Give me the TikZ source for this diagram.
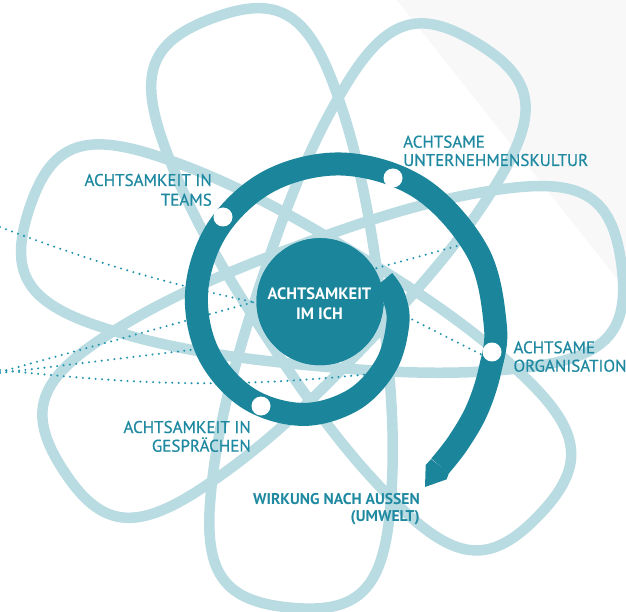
\documentclass[tikz,border=0pt]{standalone}
\usepackage{fontspec}
\setmainfont{PT Sans}
\newfontfamily\labfont[FakeBold=0.5]{PT Sans}
\usetikzlibrary{calc}
\definecolor{teal1}{RGB}{27,134,155}
\definecolor{lightfl}{RGB}{185,219,226}
\definecolor{labc}{RGB}{30,137,160}
\definecolor{dotc}{RGB}{35,150,175}
\definecolor{bggrey}{RGB}{248,248,248}
\begin{document}
\begin{tikzpicture}[x=1pt,y=1pt,
  flowerline/.style={draw=lightfl, line width=10.5pt, line join=round},
  dots/.style={draw=dotc, line width=2.3pt, dash pattern=on 0pt off 6.4pt, line cap=round},
  band/.style={draw=teal1, line width=23pt},
  whitedot/.style={circle, fill=white, minimum size=19pt, inner sep=0pt},
  lab/.style={text=labc, inner sep=0pt, font=\labfont\fontsize{17}{20}\selectfont},
  labb/.style={text=labc, inner sep=0pt, font=\bfseries\fontsize{15.6}{18}\selectfont},
  centre/.style={text=white, inner sep=0pt, font=\bfseries\fontsize{16.5}{20}\selectfont}
]
\useasboundingbox (0,0) rectangle (626,611);
\fill[white] (0,0) rectangle (626,611);
\fill[bggrey] (397,611) -- (626,321) -- (626,611) -- cycle;
% flower: seven rounded petals joined by long strokes
\begin{scope}[shift={(319,307)}]
\draw[flowerline] (7.5+102.857:62)
  \foreach \j [evaluate=\j as \a using {7.5+\j*154.2857}] in {0,...,6} {
    .. controls ($(\a+102.857:62)+(\a+12.857:80)$) and ($(\a+24.23:219.3)+(\a+180:70)$) .. (\a+24.23:219.3)
    .. controls ($(\a+24.23:219.3)+(\a:79)$) and ($(\a:305)+(\a+90:67.5)$) .. (\a:305)
    .. controls ($(\a:305)+(\a-90:67.5)$) and ($(\a-24.23:219.3)+(\a:79)$) .. (\a-24.23:219.3)
    .. controls ($(\a-24.23:219.3)+(\a+180:70)$) and ($(\a-102.857:62)+(\a-12.857:80)$) .. (\a-102.857:62)
  } -- cycle;
\end{scope}
% centre circle and station dots
\node[circle, fill=teal1, minimum size=127pt, inner sep=0pt] (ich) at (320,309.3) {};
\node[whitedot] (ukdot) at (393,433) {};
\node[whitedot] (teamsdot) at (223,394) {};
\node[whitedot] (orgdot) at (492,259) {};
\node[whitedot] (gespdot) at (261,205) {};
% free ends of dotted lines
\coordinate (la) at (0,384);
\coordinate (lc1) at (0,239);
\coordinate (rc1) at (468,368);
\coordinate (lc2) at (0,238);
\coordinate (rc2) at (207,263);
\coordinate (lc3) at (0,241);
\coordinate (rc3) at (380,238);
\draw[dots] (la) to[bend right=4] (ich.181);
\draw[dots] (lc1) -- (rc1);
\draw[dots] (lc2) -- (rc2);
\draw[dots] (lc3) to[out=-6,in=186] (rc3);
\draw[dots] (ich.-3) -- (orgdot.200);
% spiral
\draw[band] plot[smooth, tension=0.6] coordinates {(383.4,330.6) (393.9,314.0) (397.8,287.3) (385.9,245.7) (352.8,210.8) (301.6,196.6) (246.7,213.7) (207.2,260) (196.9,322.7) (219.6,385.2) (272.5,431.6) (345.7,446.8) (421.6,422) (477.9,358.5) (495.3,285.7) (490,241) (477,201) (458,168) (440,145)};
\fill[teal1] (431.1,151.9) -- (425.7,146) -- (425,124) -- (446.7,131.7) -- (448.9,138.1) -- cycle;
% circle and dots on top
\fill[teal1] (ich.center) circle[radius=63.5];
\fill[white] (ukdot.center) circle[radius=9.5];
\fill[white] (teamsdot.center) circle[radius=9.5];
\fill[white] (orgdot.center) circle[radius=9.5];
\fill[white] (gespdot.center) circle[radius=9.5];
% texts
\node[centre, anchor=base] (c1) at (319.5,311) {ACHTSAMKEIT};
\node[centre, anchor=base] (c2) at (319.5,291) {IM ICH};
\node[lab, anchor=base west] (uk1) at (403,463.3) {ACHTSAME};
\node[lab, anchor=base west] (uk2) at (403,445) {UNTERNEHMENSKULTUR};
\node[lab, anchor=base east] (tm1) at (212,425) {ACHTSAMKEIT IN};
\node[lab, anchor=base east] (tm2) at (212,405.3) {TEAMS};
\node[lab, anchor=base west] (og1) at (513.3,257.7) {ACHTSAME};
\node[lab, anchor=base west] (og2) at (513.3,239.3) {ORGANISATION};
\node[lab, anchor=base east] (gs1) at (251,178) {ACHTSAMKEIT IN};
\node[lab, anchor=base east] (gs2) at (251,159.3) {GESPRÄCHEN};
\node[labb, anchor=base east] (wk1) at (420,106.7) {WIRKUNG NACH AUSSEN};
\node[labb, anchor=base east] (wk2) at (420,90) {(UMWELT)};
\end{tikzpicture}
\end{document}
